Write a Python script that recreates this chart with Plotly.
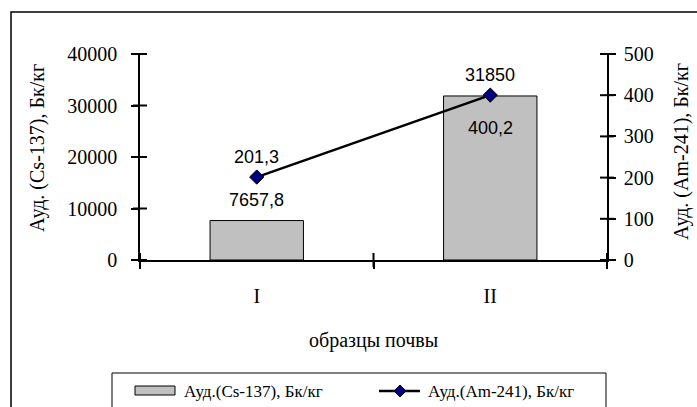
import plotly.graph_objects as go

# Soil samples and measured specific activities
samples = ["I", "II"]
cs137 = [7657.8, 31850]   # Бк/кг, left axis
am241 = [201.3, 400.2]    # Бк/кг, right axis

cs_range = [0, 40000]
am_range = [0, 500]
cs_ticks = [0, 10000, 20000, 30000, 40000]
am_ticks = [0, 100, 200, 300, 400, 500]
sample_bounds = [-0.5, 0.5, 1.5]   # category boundaries on the x axis

cs_name = "Ауд.(Cs-137), Бк/кг"
am_name = "Ауд.(Am-241), Бк/кг"

W, H = 697, 407
L, R, T, B = 140, 90, 54, 147
PW, PH = W - L - R, H - T - B

SERIF = "Liberation Serif, Times New Roman, serif"
SANS = "Liberation Sans, Arial, sans-serif"
BAR_FILL = "#c0c0c0"
NAVY = "#000080"
TICK_HALF = 7


def px_x(x):
    return (x - L) / PW


def px_y(y):
    return (H - B - y) / PH


def frac(v, rng):
    return (v - rng[0]) / (rng[1] - rng[0])


def fmt(v):
    return f"{v:g}".replace(".", ",")


fig = go.Figure()

fig.add_trace(go.Bar(
    x=samples, y=cs137, name=cs_name, width=0.4,
    marker=dict(color=BAR_FILL, line=dict(color="black", width=1)),
    yaxis="y", showlegend=False,
))

fig.add_trace(go.Scatter(
    x=samples, y=am241, name=am_name, mode="lines+markers",
    line=dict(color="black", width=2.5),
    marker=dict(symbol="diamond", size=11, color=NAVY,
                line=dict(color="black", width=1)),
    yaxis="y2", showlegend=False,
))

annotations = []
# value labels for the bars (above each bar)
for s, v in zip(samples, cs137):
    annotations.append(dict(x=s, y=v, xref="x", yref="y", text=fmt(v),
                            showarrow=False, yshift=21,
                            font=dict(family=SANS, size=18, color="black")))
# value labels for the line points
am_shift = [20, -33]
for s, v, sh in zip(samples, am241, am_shift):
    annotations.append(dict(x=s, y=v, xref="x", yref="y2", text=fmt(v),
                            showarrow=False, yshift=sh,
                            font=dict(family=SANS, size=18, color="black")))

# axis titles
title_font = dict(family=SERIF, size=20, color="black")
annotations.append(dict(x=px_x(37), y=px_y(148), xref="paper", yref="paper",
                        text="Ауд. (Cs-137), Бк/кг", textangle=-90,
                        showarrow=False, xanchor="center", yanchor="middle",
                        font=title_font))
annotations.append(dict(x=px_x(681), y=px_y(152), xref="paper", yref="paper",
                        text="Ауд. (Am-241), Бк/кг", textangle=-90,
                        showarrow=False, xanchor="center", yanchor="middle",
                        font=title_font))
annotations.append(dict(x=px_x(373), y=px_y(340), xref="paper", yref="paper",
                        text="образцы почвы", showarrow=False,
                        xanchor="center", yanchor="middle",
                        font=title_font))

# legend: frame, swatches and labels
legend_font = dict(family=SERIF, size=17, color="black")
annotations.append(dict(x=px_x(182), y=px_y(391), xref="paper", yref="paper",
                        text=cs_name, showarrow=False,
                        xanchor="left", yanchor="middle", font=legend_font))
annotations.append(dict(x=px_x(426), y=px_y(391), xref="paper", yref="paper",
                        text=am_name, showarrow=False,
                        xanchor="left", yanchor="middle", font=legend_font))

shapes = [
    # chart frame
    dict(type="rect", xref="paper", yref="paper",
         x0=px_x(11), x1=px_x(720), y0=px_y(430), y1=px_y(12),
         line=dict(color="black", width=1.5), layer="below"),
    # legend frame
    dict(type="rect", xref="paper", yref="paper",
         x0=px_x(112), x1=px_x(606), y0=px_y(430), y1=px_y(373),
         line=dict(color="black", width=1), fillcolor="white", layer="below"),
    # bar swatch
    dict(type="rect", xref="paper", yref="paper",
         x0=px_x(135), x1=px_x(175), y0=px_y(395), y1=px_y(386),
         line=dict(color="black", width=1), fillcolor=BAR_FILL),
    # line swatch
    dict(type="line", xref="paper", yref="paper",
         x0=px_x(379), x1=px_x(420), y0=px_y(391), y1=px_y(391),
         line=dict(color="black", width=2.5)),
    # diamond on the line swatch
    dict(type="path", xref="paper", yref="paper",
         path=(f"M {px_x(394)} {px_y(391)} L {px_x(400)} {px_y(385)} "
               f"L {px_x(406)} {px_y(391)} L {px_x(400)} {px_y(397)} Z"),
         line=dict(color="black", width=1), fillcolor=NAVY),
]

# cross-style tick marks straddling each axis line
tick_line = dict(color="black", width=2)
for v in cs_ticks:
    f = frac(v, cs_range)
    shapes.append(dict(type="line", xref="paper", yref="paper",
                       x0=px_x(L - TICK_HALF), x1=px_x(L + TICK_HALF),
                       y0=f, y1=f, line=tick_line))
for v in am_ticks:
    f = frac(v, am_range)
    shapes.append(dict(type="line", xref="paper", yref="paper",
                       x0=px_x(W - R - TICK_HALF), x1=px_x(W - R + TICK_HALF),
                       y0=f, y1=f, line=tick_line))
for v in sample_bounds:
    shapes.append(dict(type="line", xref="x", yref="paper",
                       x0=v, x1=v,
                       y0=px_y(H - B + TICK_HALF), y1=px_y(H - B - TICK_HALF),
                       line=tick_line))

tick_font = dict(family=SERIF, size=20, color="black")
tick_style = dict(tickcolor="black", tickwidth=2, ticklen=TICK_HALF)

fig.update_layout(
    width=W, height=H,
    margin=dict(l=L, r=R, t=T, b=B, pad=0, autoexpand=False),
    paper_bgcolor="white", plot_bgcolor="white",
    showlegend=False,
    xaxis=dict(
        type="category", range=[-0.5, 1.5], tickson="boundaries",
        ticks="outside", **tick_style,
        showline=True, linecolor="black", linewidth=1.5,
        showgrid=False, zeroline=False, tickfont=tick_font,
        ticklabelstandoff=17,
    ),
    yaxis=dict(
        range=cs_range, tickmode="array", tickvals=cs_ticks,
        tickformat="d", ticks="outside", **tick_style,
        showline=True, linecolor="black", linewidth=1.5,
        showgrid=False, zeroline=False, tickfont=tick_font,
        ticklabelstandoff=10,
    ),
    yaxis2=dict(
        overlaying="y", side="right", anchor="x",
        range=am_range, tickmode="array", tickvals=am_ticks,
        tickformat="d", ticks="outside", **tick_style,
        showline=True, linecolor="black", linewidth=1.5,
        showgrid=False, zeroline=False, tickfont=tick_font,
        ticklabelstandoff=4,
    ),
    annotations=annotations,
    shapes=shapes,
)

fig.write_html("out.html")
